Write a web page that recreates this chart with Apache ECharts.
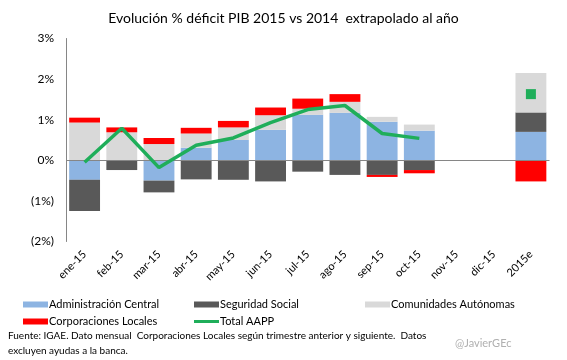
<!DOCTYPE html>
<html>
<head>
<meta charset="utf-8">
<script src="https://cdn.jsdelivr.net/npm/echarts@6/dist/echarts.min.js"></script>
<style>
html,body{margin:0;padding:0;background:#fff;}
#c{width:567px;height:360px;}
</style>
</head>
<body>
<div id="c"></div>
<script>
const categories = ['ene-15','feb-15','mar-15','abr-15','may-15','jun-15','jul-15','ago-15','sep-15','oct-15','nov-15','dic-15','2015e'];
const adminCentral = [-0.48, 0, -0.50, 0.31, 0.50, 0.75, 1.12, 1.17, 0.95, 0.73, null, null, 0.70];
const seguridadSocial = [-0.77, -0.24, -0.29, -0.47, -0.48, -0.52, -0.28, -0.36, -0.36, -0.24, null, null, 0.48];
const comunidades = [0.93, 0.69, 0.40, 0.35, 0.31, 0.36, 0.15, 0.27, 0.12, 0.15, null, null, 0.97];
const corporaciones = [0.12, 0.12, 0.15, 0.14, 0.16, 0.19, 0.25, 0.19, -0.05, -0.08, null, null, -0.52];
const totalAAPP = [-0.05, 0.79, -0.18, 0.37, 0.55, 0.93, 1.25, 1.35, 0.66, 0.54, null, null, 1.63];
const yTicks = {'3':'3%','2':'2%','1':'1%','0':'0%','-1':'(1%)','-2':'(2%)'};

const FONT = 'Lato';
const chart = echarts.init(document.getElementById('c'));

const barBase = {type:'bar', stack:'s', barCategoryGap:'17%', animation:false};

const lineData = totalAAPP.map((v,i)=> i===categories.length-1
  ? {value:v, symbol:'rect', symbolSize:10, itemStyle:{color:'#1fae5a'}}
  : v);

function leg(name, left, top, h, icon){
  return {data:[{name:name, icon:icon}], left:left, top:top, itemWidth:25, itemHeight:h,
    textStyle:{fontFamily:FONT, fontSize:11, color:'#000', padding:[0,0,0,-4]}};
}

chart.setOption({
  animation:false,
  textStyle:{fontFamily:FONT},
  title:{
    text:'Evolución % déficit PIB 2015 vs 2014  extrapolado al año',
    left:'center', top:6,
    textStyle:{fontFamily:FONT, fontSize:14, fontWeight:'normal', color:'#000'}
  },
  legend:[
    leg('Administración Central', 18, 294, 6, 'rect'),
    leg('Seguridad Social', 189, 294, 6, 'rect'),
    leg('Comunidades Autónomas', 360, 294, 6, 'rect'),
    leg('Corporaciones Locales', 18, 311, 6, 'rect'),
    leg('Total AAPP', 189, 311, 3, 'rect')
  ],
  grid:{left:66, right:17.5, top:38.5, bottom:118.5, containLabel:false},
  xAxis:{
    type:'category', data:categories,
    axisLine:{show:false}, axisTick:{show:false},
    axisLabel:{rotate:45, fontSize:11, color:'#000', margin:11, fontFamily:FONT}
  },
  yAxis:{
    type:'value', min:-2, max:3, interval:1,
    splitLine:{show:false},
    axisLine:{show:true, lineStyle:{color:'#868686'}},
    axisTick:{show:false},
    axisLabel:{fontSize:12, color:'#000', margin:12, fontFamily:FONT,
      formatter:v=>yTicks[String(v)]}
  },
  series:[
    Object.assign({}, barBase, {name:'Administración Central', data:adminCentral, itemStyle:{color:'#8db4e2'},
      markLine:{silent:true, symbol:'none', label:{show:false}, lineStyle:{color:'#868686', type:'solid', width:1},
        data:[{yAxis:0}]}}),
    Object.assign({}, barBase, {name:'Seguridad Social', data:seguridadSocial, itemStyle:{color:'#595959'}}),
    Object.assign({}, barBase, {name:'Comunidades Autónomas', data:comunidades, itemStyle:{color:'#d9d9d9'}}),
    Object.assign({}, barBase, {name:'Corporaciones Locales', data:corporaciones, itemStyle:{color:'#ff0000'}}),
    {name:'Total AAPP', type:'line', data:lineData, symbol:'none', connectNulls:false,
      lineStyle:{color:'#1fae5a', width:3.5}, itemStyle:{color:'#1fae5a'}, z:5, animation:false}
  ],
  graphic:[
    {type:'text', left:8, top:328, style:{text:'Fuente: IGAE. Dato mensual  Corporaciones Locales según trimestre anterior y siguiente.  Datos\nexcluyen ayudas a la banca.', font:'10px '+FONT, fill:'#000', lineHeight:15}},
    {type:'text', left:455, top:338, style:{text:'@JavierGEc', font:'11px '+FONT, fill:'#b0b0b0'}}
  ]
});
</script>
</body>
</html>
